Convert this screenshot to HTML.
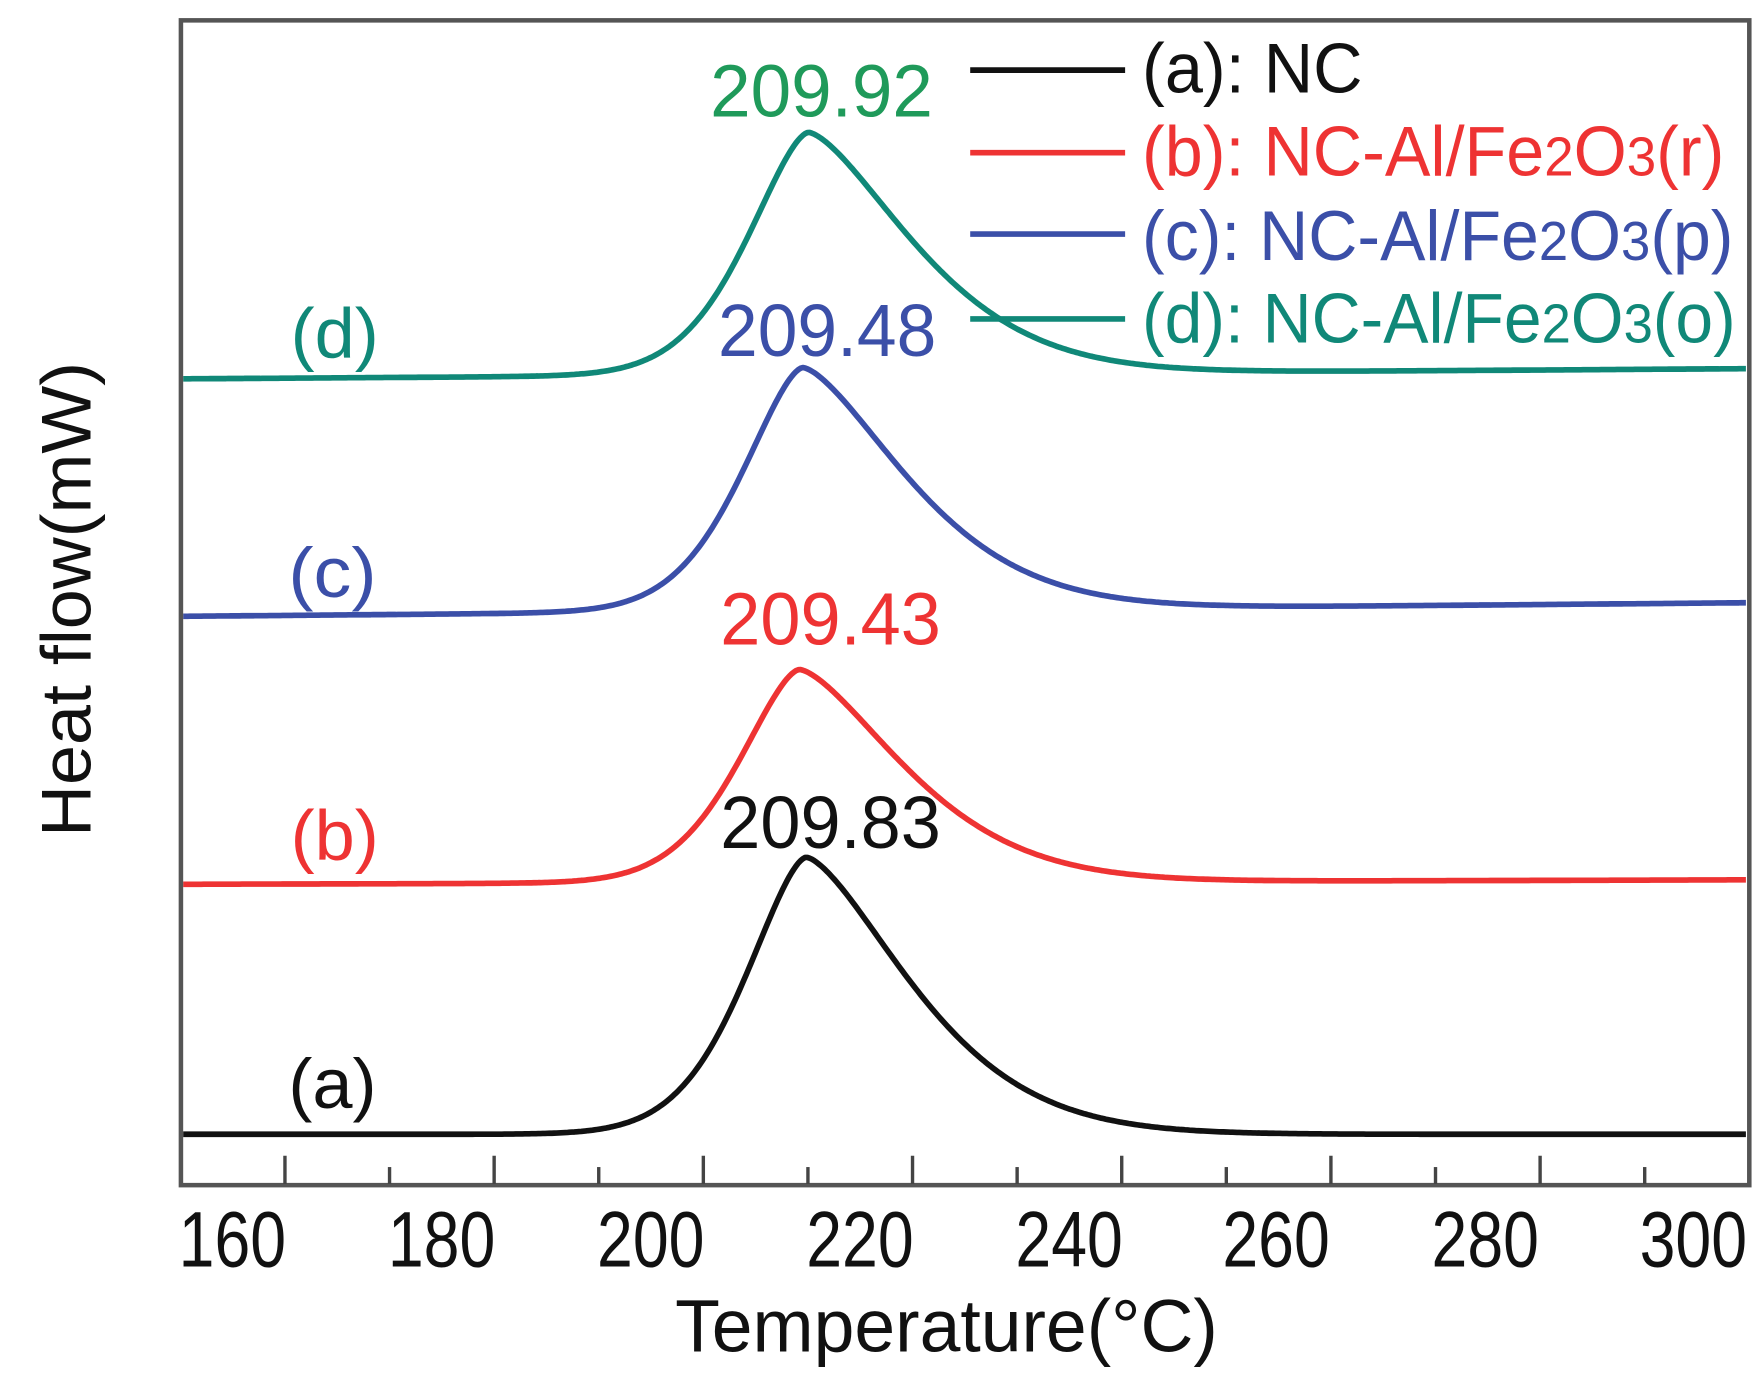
<!DOCTYPE html>
<html><head><meta charset="utf-8"><style>
html,body{margin:0;padding:0;background:#fff;}
svg{display:block;}
text{font-family:"Liberation Sans",sans-serif;}
</style></head><body>
<svg id="s" width="1764" height="1374" viewBox="0 0 1560 1215" preserveAspectRatio="none" xmlns="http://www.w3.org/2000/svg">
<rect x="0" y="0" width="1560" height="1215" fill="#fff"/>
<g id="curves" fill="none" stroke-width="5" stroke-linejoin="round"></g>
<rect x="160" y="18" width="1387" height="1030" fill="none" stroke="#555" stroke-width="4"/>
<g stroke="#444" stroke-width="3" id="ticks"></g>
<g font-size="70" fill="#111" lengthAdjust="spacingAndGlyphs">
<text x="158" y="1120" textLength="95" lengthAdjust="spacingAndGlyphs">160</text>
<text x="343" y="1120" textLength="95" lengthAdjust="spacingAndGlyphs">180</text>
<text x="528" y="1120" textLength="95" lengthAdjust="spacingAndGlyphs">200</text>
<text x="713" y="1120" textLength="95" lengthAdjust="spacingAndGlyphs">220</text>
<text x="898" y="1120" textLength="95" lengthAdjust="spacingAndGlyphs">240</text>
<text x="1081" y="1120" textLength="95" lengthAdjust="spacingAndGlyphs">260</text>
<text x="1266" y="1120" textLength="95" lengthAdjust="spacingAndGlyphs">280</text>
<text x="1450" y="1120" textLength="95" lengthAdjust="spacingAndGlyphs">300</text>
</g>
<text x="597" y="1195" font-size="66" fill="#111" textLength="480" lengthAdjust="spacingAndGlyphs">Temperature(°C)</text>
<text transform="translate(80,740) rotate(-90)" font-size="62" fill="#111" textLength="420" lengthAdjust="spacingAndGlyphs">Heat flow(mW)</text>
<g font-size="62">
<text x="255" y="980" fill="#111" textLength="78" lengthAdjust="spacingAndGlyphs">(a)</text>
<text x="257" y="760" fill="#ee3333" textLength="78" lengthAdjust="spacingAndGlyphs">(b)</text>
<text x="255" y="528" fill="#3b4fa8" textLength="78" lengthAdjust="spacingAndGlyphs">(c)</text>
<text x="257" y="316" fill="#108878" textLength="78" lengthAdjust="spacingAndGlyphs">(d)</text>
</g>
<g font-size="66">
<text x="637" y="750" fill="#111" textLength="195" lengthAdjust="spacingAndGlyphs">209.83</text>
<text x="637" y="570" fill="#ee3333" textLength="195" lengthAdjust="spacingAndGlyphs">209.43</text>
<text x="635" y="315" fill="#3b4fa8" textLength="193" lengthAdjust="spacingAndGlyphs">209.48</text>
<text x="628" y="103" fill="#1f9a5a" textLength="197" lengthAdjust="spacingAndGlyphs">209.92</text>
</g>
<g stroke-width="5">
<line x1="858" y1="62" x2="995" y2="62" stroke="#111"/>
<line x1="858" y1="135" x2="995" y2="135" stroke="#ee3333"/>
<line x1="858" y1="207" x2="995" y2="207" stroke="#3b4fa8"/>
<line x1="858" y1="282" x2="995" y2="282" stroke="#108878"/>
</g>
<g font-size="62">
<text x="1010" y="82" fill="#111" textLength="195" lengthAdjust="spacingAndGlyphs">(a): NC</text>
<text x="1010" y="155" fill="#ee3333" textLength="515" lengthAdjust="spacingAndGlyphs">(b): NC-Al/Fe<tspan font-size="48">2</tspan>O<tspan font-size="48">3</tspan>(r)</text>
<text x="1010" y="230" fill="#3b4fa8" textLength="523" lengthAdjust="spacingAndGlyphs">(c): NC-Al/Fe<tspan font-size="48">2</tspan>O<tspan font-size="48">3</tspan>(p)</text>
<text x="1010" y="303" fill="#108878" textLength="525" lengthAdjust="spacingAndGlyphs">(d): NC-Al/Fe<tspan font-size="48">2</tspan>O<tspan font-size="48">3</tspan>(o)</text>
</g>
</svg>
<script>
var ns="http://www.w3.org/2000/svg";
var t=document.getElementById("ticks");
for(var i=0;i<14;i++){var x=252+i*92.5;if(x>1545)break;var l=document.createElementNS(ns,"line");
l.setAttribute("x1",x);l.setAttribute("x2",x);l.setAttribute("y1",1047);l.setAttribute("y2",i%2==0?1022:1032);t.appendChild(l);}
var series=[
 {c:"#111",bl:1003,br:1003,px:713,py:758},
 {c:"#ee3333",bl:782,br:778,px:707,py:592},
 {c:"#3b4fa8",bl:545,br:533,px:710,py:325},
 {c:"#108878",bl:335,br:326,px:715,py:117}
];
var g=document.getElementById("curves");
series.forEach(function(s){
 var d="";
 for(var x=162;x<=1545;x+=2){
  var base=s.bl+(s.br-s.bl)*(x-162)/(1545-162);
  var h=base-s.py;
  var dx=x-s.px,f;
  if(dx<0){f=Math.exp(-Math.pow(-dx/77,1.6));}
  else{f=Math.exp(-Math.pow(dx/130,1.5));}
  var y=base-h*f;
  d+=(d?"L":"M")+x+","+y.toFixed(1);
 }
 var p=document.createElementNS(ns,"path");p.setAttribute("d",d);p.setAttribute("stroke",s.c);g.appendChild(p);
});
</script>
</body></html>
